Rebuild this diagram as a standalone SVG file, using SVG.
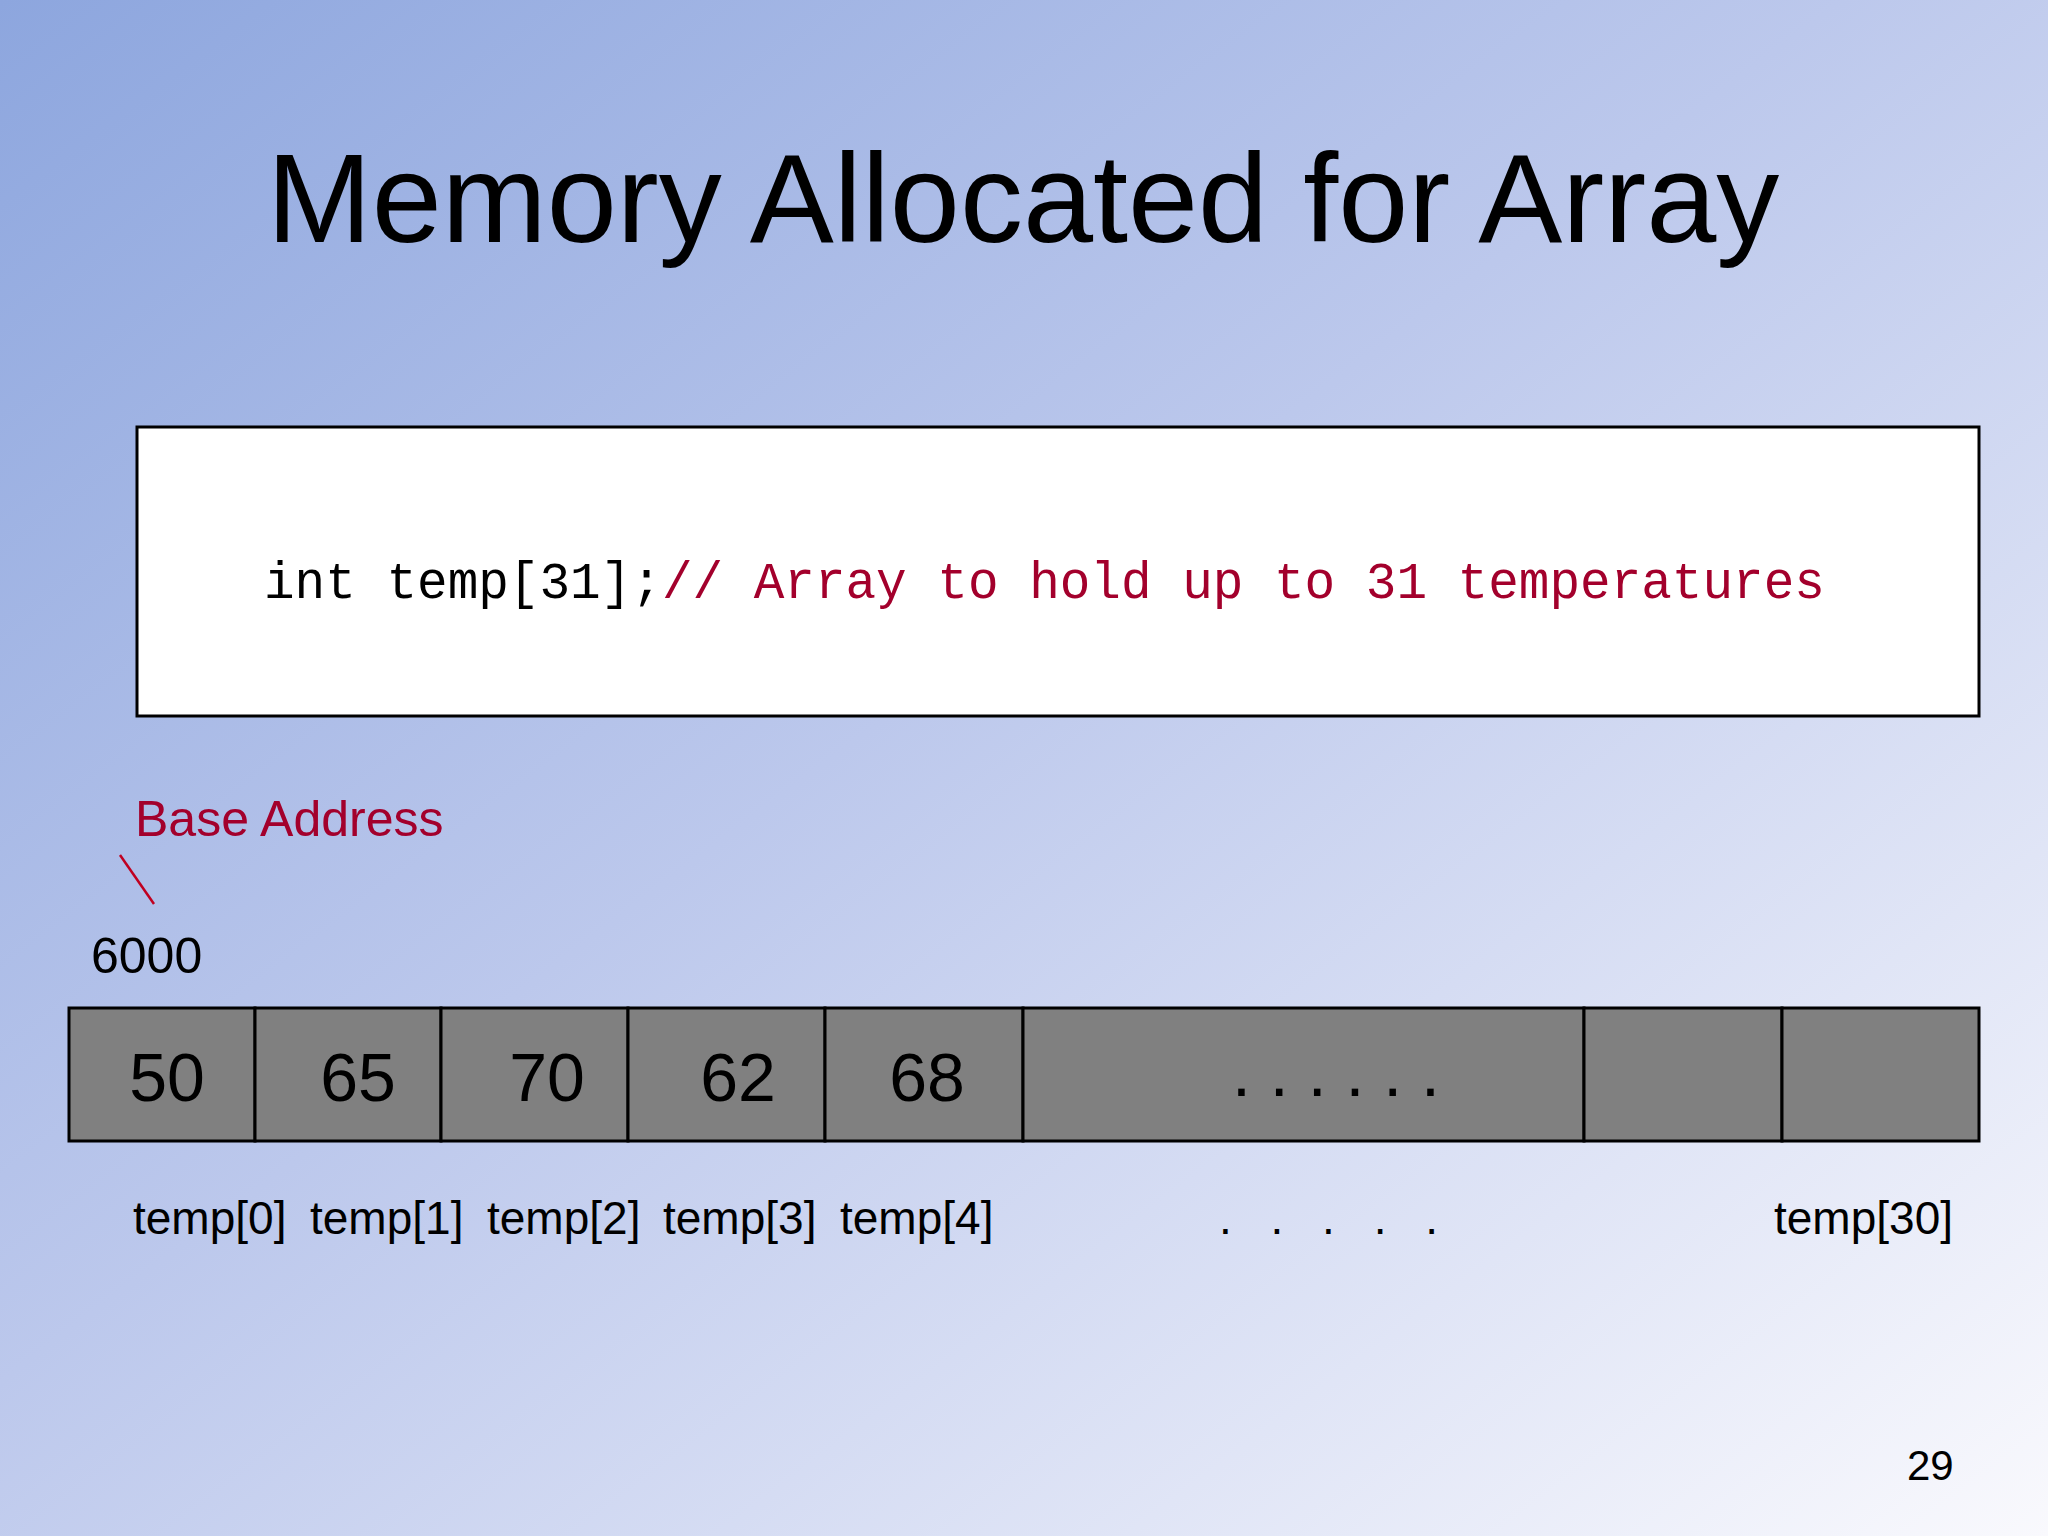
<svg xmlns="http://www.w3.org/2000/svg" width="2048" height="1536" viewBox="0 0 2048 1536">
<defs>
<linearGradient id="bg" x1="0" y1="0" x2="1" y2="1">
<stop offset="0" stop-color="#8da6de"/>
<stop offset="0.45" stop-color="#bcc8ec"/>
<stop offset="1" stop-color="#f9f9fd"/>
</linearGradient>
<style>
.s{font-family:"Liberation Sans",Arial,sans-serif;fill:#000}
.c{stroke:#000;stroke-width:3;fill:#808080}
.lb{font-size:46px}
.n{font-size:68px;text-anchor:middle}
</style>
</defs>
<rect width="2048" height="1536" fill="url(#bg)"/>
<text class="s" x="1023" y="242" font-size="126" text-anchor="middle">Memory Allocated for Array</text>
<g id="code">
<rect x="137" y="427" width="1842" height="289" fill="#fff" stroke="#000" stroke-width="3"/>
<text x="264" y="598" font-family="'Liberation Mono','Courier New',monospace" font-size="51"><tspan fill="#000">int temp[31];</tspan><tspan fill="#a3002c">// Array to hold up to 31 temperatures</tspan></text>
</g>
<g id="base">
<text class="s" x="135" y="836" font-size="50" style="fill:#a3002c">Base Address</text>
<text class="s" x="91" y="973" font-size="50">6000</text>
</g>
<g id="connectors"><line x1="120" y1="855" x2="154" y2="904" stroke="#c00020" stroke-width="2.5"/></g>
<g id="array">
<rect class="c" x="69" y="1008" width="186" height="133"/>
<rect class="c" x="255" y="1008" width="186" height="133"/>
<rect class="c" x="441" y="1008" width="187" height="133"/>
<rect class="c" x="628" y="1008" width="197" height="133"/>
<rect class="c" x="825" y="1008" width="198" height="133"/>
<rect class="c" x="1023" y="1008" width="561" height="133" stroke-width="4"/>
<rect class="c" x="1584" y="1008" width="198" height="133"/>
<rect class="c" x="1782" y="1008" width="197" height="133"/>
<text class="s n" x="167" y="1101">50</text>
<text class="s n" x="358" y="1101">65</text>
<text class="s n" x="547" y="1101">70</text>
<text class="s n" x="738" y="1101">62</text>
<text class="s n" x="927" y="1101">68</text>
<text class="s n" x="1336" y="1096">. . . . . .</text>
</g>
<g id="labels">
<text class="s lb" x="133" y="1234">temp[0]</text>
<text class="s lb" x="310" y="1234">temp[1]</text>
<text class="s lb" x="487" y="1234">temp[2]</text>
<text class="s lb" x="663" y="1234">temp[3]</text>
<text class="s lb" x="840" y="1234">temp[4]</text>
<text class="s lb" x="1219" y="1234" letter-spacing="13">. . . . .</text>
<text class="s lb" x="1774" y="1234">temp[30]</text>
</g>
<text class="s" x="1907" y="1480" font-size="42">29</text>
</svg>
